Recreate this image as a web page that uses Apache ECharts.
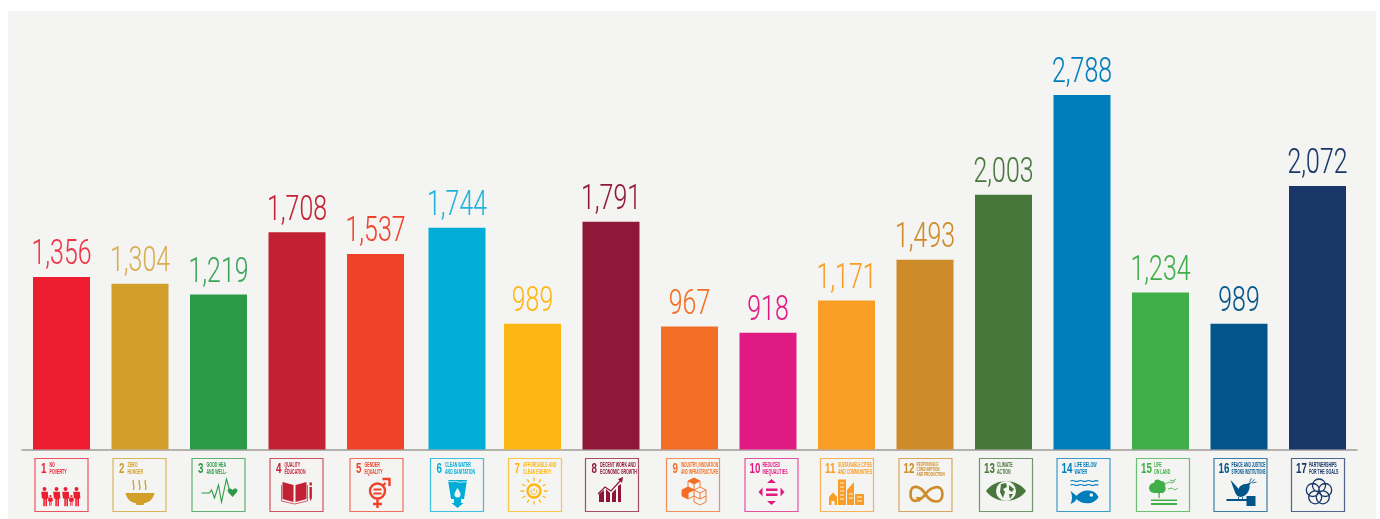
<!DOCTYPE html>
<html><head><meta charset="utf-8">
<style>html,body{margin:0;padding:0;background:#fff}#c{width:1380px;height:519px}</style>
<script src="https://cdn.jsdelivr.net/npm/echarts@6/dist/echarts.min.js"></script>
</head><body><div id="c"></div>
<script>
const categories = ['1','2','3','4','5','6','7','8','9','10','11','12','13','14','15','16','17'];
const values = [1356,1304,1219,1708,1537,1744,989,1791,967,918,1171,1493,2003,2788,1234,989,2072];
const barColors = ['#ed1c2e','#d19f2a','#2d9a47','#c22033','#f04129','#00add8','#fdb714','#8f1838','#f36e24','#e01a83','#f99d25','#cd8b2a','#48773c','#007dbb','#40ae49','#02558b','#183668'];
const labelColors = ['#ee3346','#d8ae52','#3ea35a','#c22033','#f04129','#21b3dc','#fdb714','#8f1838','#f36e24','#e01a83','#f99d25','#cd8b2a','#48773c','#007dbb','#40ae49','#02558b','#183668'];
const titles = [['NO','POVERTY'],['ZERO','HUNGER'],['GOOD HEA','AND WELL-'],['QUALITY','EDUCATION'],['GENDER','EQUALITY'],['CLEAN WATER','AND SANITATION'],['AFFORDABLE AND','CLEAN ENERGY'],['DECENT WORK AND','ECONOMIC GROWTH'],['INDUSTRY, INNOVATION','AND INFRASTRUCTURE'],['REDUCED','INEQUALITIES'],['SUSTAINABLE CITIES','AND COMMUNITIES'],['RESPONSIBLE','CONSUMPTION','AND PRODUCTION'],['CLIMATE','ACTION'],['LIFE BELOW','WATER'],['LIFE','ON LAND'],['PEACE AND JUSTICE','STRONG INSTITUTIONS'],['PARTNERSHIPS','FOR THE GOALS']];

// pictograms, in the 54x54 space of one tile
const person=(x,y,s)=>`M${x-1.8*s} ${y}a${1.8*s} ${1.8*s} 0 1 0 ${3.6*s} 0a${1.8*s} ${1.8*s} 0 1 0 ${-3.6*s} 0M${x-3*s} ${y+2.6*s}h${6*s}l.6 ${6*s}h-1.4v${7*s}h${-1.4*s}v${-6*s}h-.6v${6*s}h${-1.4*s}v${-7*s}h-1.4z`;
const sunRays=(()=>{let d='';for(let k=0;k<12;k++){const a=k*Math.PI/6,c=Math.cos(a),s=Math.sin(a);d+=`M${26+c*10} ${33+s*10}L${26+c*13.500} ${33+s*13.500}`;}return d;})();
const ring=(x,y,r)=>`M${x-r} ${y}a${r} ${r} 0 1 0 ${2*r} 0a${r} ${r} 0 1 0 ${-2*r} 0`;
const glyphs = [
 [{f:person(10,31,1.1)+person(22,31,1.1)+person(31,31,1.1)+person(42,31,1.1)+person(16,38,.62)+person(37,38,.62)}],
 [{f:'M13 35H42C41 41 36 45 32 45L31 47H24L23 45C19 45 14 41 13 35Z'},{s:'M21 22C19 25 23 27 21 32M27 22C25 25 29 27 27 32M33 22C31 25 35 27 33 32',w:1.3}],
 [{s:'M10 35H18L20 32L23 40L27 27L30 44L35 21L38 32',w:1.1},{f:'M41 39L36.5 34C35 31 38 29 41 32C44 29 47 31 45.5 34Z'}],
 [{f:'M13 24L24 27V44L13 41ZM26 27L37 24V41L26 44Z'},{s:'M12 27V43L25 46L38 43V27',w:.7},{f:'M40 29h2.4v11l-1.2 3l-1.2-3zM40 24.500h2.400v3h-2.400z'}],
 [{s:'M36 25L33 28'+ring(28,33,7.500)+'M28 41V50M23.500 46H32.500',w:2.400},{s:'M33 21H40V28',w:2.400},{f:'M24 30.500h8v2h-8zM24 34.500h8v2h-8z'}],
 [{f:'M18 22H37L34 41H31V45H33.500L27.500 50L21.500 45H24V41H21Z'},{f:'M27.500 30C25 34 24.500 35 24.500 36.500a3 3 0 0 0 6 0C30.500 35 30 34 27.500 30Z',c:'#f4f4f2'},{s:'M18 23C22 25 25 22 28 24C31 25 34 23 37 24',w:.8,c:'#f4f4f2'}],
 [{s:ring(26,33,6.500),w:2.400},{s:'M26 30V33'+'M23.700 31.500a3 3 0 1 0 4.600 0',w:1},{s:sunRays,w:1.300}],
 [{f:'M14 44V36L19 32V44ZM21 44V31L25 35V44ZM27 44V35L31 31V44ZM33 44V28L36 26V44Z'},{s:'M13 36L20 29L26 33L36 22',w:1.200},{f:'M33 21L38 19L37 25Z'}],
 [{s:'M28 20L34 23V29L28 32L22 29V23ZM22 23L28 26L34 23M28 26V32M22 29L28 32V38L22 41L16 38V32ZM16 32L22 35L28 32M22 35V41M34 29L40 32V38L34 41L28 38M28 32L34 35L40 32M34 35V41M28 38V44L34 47L40 44V38',w:.9},{f:'M28 20L34 23L28 26L22 23ZM22 29L28 32L22 35L16 32ZM22 35V41L16 38V32Z'}],
 [{f:'M27 21L31.500 25H22.500ZM27 47L22.500 43H31.500ZM14 34L18 29.500V38.500ZM40 34L36 29.500V38.500ZM21.500 30.500H33V33H21.500ZM21.500 35.500H33V38H21.500Z'}],
 [{f:'M9 47V39L13 34.500L17 39V47ZM18 47V21.500H26V47ZM27 47V32L34 24V47ZM35 47V36H44V47Z'},{s:'M20 25H24M20 29H24M20 33H24M20 37H24M20 41H24M29 36H33M29 40H33M37 39H42M37 43H42',w:1,c:'#f4f4f2'},{f:'M11.500 47V43H14.500V47Z',c:'#f4f4f2'}],
 [{s:'M27 36C22 28 12 25 12 36C12 47 22 43 27 36C32 29 44 25 44 36C44 47 32 45 27 36',w:2.600},{f:'M17 39L24 39L21 44Z'}],
 [{f:'M7 33C16 20 38 20 47 33C38 46 16 46 7 33Z'},{f:'M17 33a10 10 0 1 0 20 0a10 10 0 1 0 -20 0Z',c:'#f4f4f2'},{f:'M22 26L27 25L28 29L24 31L26 34L24 40L21 34ZM30 27L35 31L33 34L30 32ZM30 36L34 36L31 41Z'}],
 [{s:'M14 23C17 21 19 25 22 23C25 21 27 25 30 23C33 21 35 25 38 23C39 22 41 23 42 23M14 27C17 25 19 29 22 27C25 25 27 29 30 27C33 25 35 29 38 27C39 26 41 27 42 27',w:1.200},{f:'M14 33C17 35 19 37 20 38C25 31 38 30 42 39C38 47 25 47 20 41C19 43 17 45 14 46C16 42 16 37 14 33Z'},{f:'M33 37a1.800 1.800 0 1 0 3.600 0a1.800 1.800 0 1 0 -3.600 0Z',c:'#f4f4f2'}],
 [{f:'M18 25a4 4 0 0 1 7 -2a4 4 0 0 1 4 5a5 5 0 0 1 -2 7h-3.500v1h-1V35H18a5 5 0 0 1 0 -10Z'},{f:'M22.500 34h1.200v6h-1.200z'},{f:'M15 41.500H41V43H15ZM15 45H41V47H15Z'},{s:'M29 26L33 24L36 25L39 23M34 22L37 23L40 21M32 31L36 30L39 32L42 30',w:.8}],
 [{f:'M17 22C21 26 23 28 25 31C26 28 29 26 33 26L38 24L36 27L36 30C35 36 30 39 27 39C24 39 22 36 21 33Z'},{f:'M13 41H33V43H13ZM33 38H42V48H33Z'},{s:'M25 39V41M29 39V41M38 25L41 21M39 25L43 24M36 24L38 20',w:.8}],
 [{s:ring(28,27.500,6.500)+ring(21.800,32,6.500)+ring(34.200,32,6.500)+ring(24.200,39.300,6.500)+ring(31.800,39.300,6.500),w:1.300}]
];

const GRID = {left:22.25, width:1334.5, top:68, height:381.5};
const BAR_W = 57;
const shifted = 5; // goal 6 sits a little right of the regular rhythm in the source
const tileNudge = [0,-.5,0,-.5,1,0,2.500,1,3.500,3.500,.5,.5,2.500,1.500,2.500,1.500,.5];
const glyphBox = {x:0,y:0,width:54,height:54};
const box = 'M0 0M54 54';
const TITLE_FONT = 'bold 6.5px "Liberation Sans"';
const meas = document.createElement('canvas').getContext('2d');

function tile(i, cx, y0, color){
  const two = i>8;
  const children = [
    {type:'rect',shape:{x:.5,y:.5,width:53,height:53},style:{fill:'transparent',stroke:color,lineWidth:1.2,opacity:.75}},
    {type:'text',x:two?5:6.5,y:3.2,scaleX:.65,style:{text:categories[i],font:'bold 15px "Liberation Sans"',fill:color,textAlign:'left',textVerticalAlign:'top'}}
  ];
  const lines = titles[i];
  const three = lines.length>2;
  const tx = two?18:15;
  meas.font = TITLE_FONT;
  lines.forEach((t,k)=>{
    const w = meas.measureText(t).width;
    const sx = Math.min(.55,(52-tx)/w);
    children.push({type:'text',x:tx,y:(three?3.5:4.2)+k*(three?5.2:6.3),scaleX:sx,
      style:{text:t,font:three?'bold 5.6px "Liberation Sans"':TITLE_FONT,fill:color,textAlign:'left',textVerticalAlign:'top'}});
  });
  glyphs[i].forEach(g=>{
    const d = box + (g.f||g.s);
    children.push({type:'path',shape:Object.assign({pathData:d},glyphBox),layout:'cover',
      style:g.f?{fill:g.c||color,stroke:null}:{fill:null,stroke:g.c||color,lineWidth:g.w,lineCap:'butt',lineJoin:'miter'}});
  });
  return {type:'group',x:cx-27+tileNudge[i],y:y0+8.500,children};
}

const option = {
  animation:false,
  backgroundColor:'#fff',
  graphic:[{type:'rect',z:-10,shape:{x:8,y:11,width:1368,height:508},style:{fill:'#f4f4f2'}}],
  grid:[
    Object.assign({},GRID),
    Object.assign({},GRID,{left:GRID.left+3})
  ],
  xAxis:[
    {type:'category',gridIndex:0,data:categories,axisLine:{show:true,lineStyle:{color:'#b5b1ae',width:2}},axisTick:{show:false},axisLabel:{show:false}},
    {type:'category',gridIndex:1,data:categories,show:false}
  ],
  yAxis:[
    {type:'value',gridIndex:0,min:0,max:3000,show:false,splitLine:{show:false}},
    {type:'value',gridIndex:1,min:0,max:3000,show:false,splitLine:{show:false}}
  ],
  series:[
    {type:'bar',xAxisIndex:0,yAxisIndex:0,barWidth:BAR_W,z:3,
     data:values.map((v,i)=>i===shifted?null:{value:v,itemStyle:{color:barColors[i]}})},
    {type:'bar',xAxisIndex:1,yAxisIndex:1,barWidth:BAR_W,z:3,
     data:values.map((v,i)=>i===shifted?{value:v,itemStyle:{color:barColors[i]}}:null)},
    {type:'custom',xAxisIndex:0,yAxisIndex:0,z:4,clip:false,silent:true,
     data:values.map((v,i)=>[i,v]),
     renderItem(params,api){
       const i=api.value(0), v=api.value(1);
       const top=api.coord([i,v]), base=api.coord([i,0]);
       const dx=i===shifted?3:0;
       return {type:'group',children:[
         {type:'text',x:top[0]+dx,y:top[1]-4,scaleX:.71,
          style:{text:v.toLocaleString('en-US'),font:'300 35px Roboto',fill:labelColors[i],stroke:labelColors[i],lineWidth:.12,textAlign:'center',textVerticalAlign:'bottom'}},
         tile(i,top[0]+dx,base[1],barColors[i])
       ]};
     }}
  ]
};
const chart = echarts.init(document.getElementById('c'),null,{renderer:'canvas'});
chart.setOption(option);
</script></body></html>
